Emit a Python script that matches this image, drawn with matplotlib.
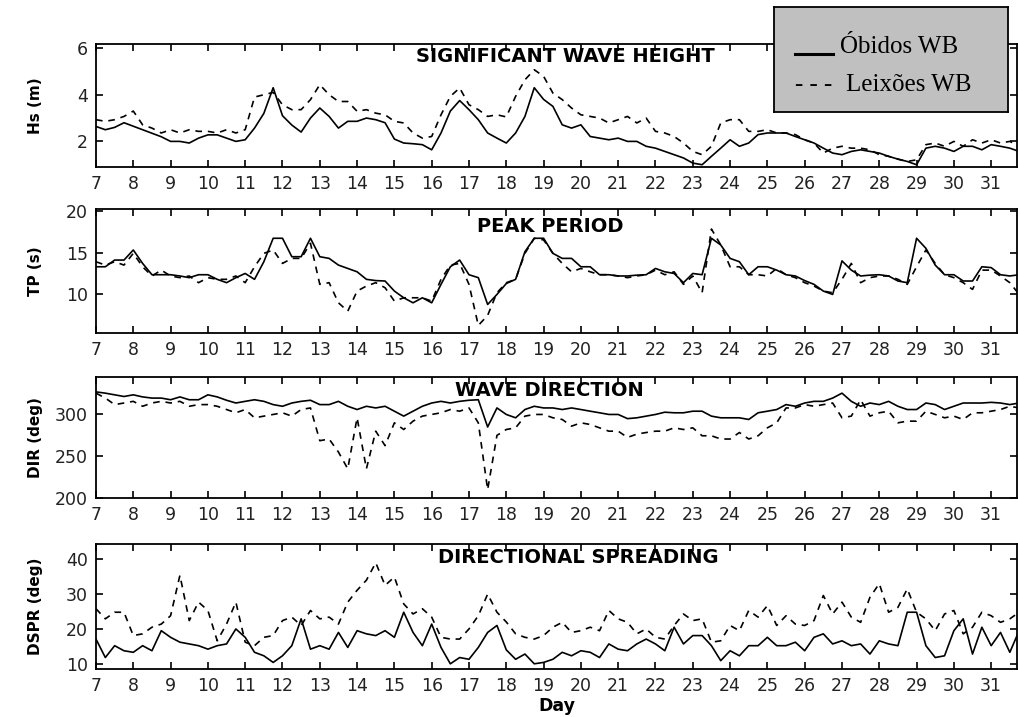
import numpy as np
import matplotlib
matplotlib.use("Agg")
import matplotlib.pyplot as plt
from matplotlib.lines import Line2D
from matplotlib import font_manager

# time axis: 6-hourly samples, day of month
days = np.arange(7, 32, 0.25)

# significant wave height (m)
obidos_hs = [
    2.64, 2.50, 2.60, 2.80,  2.65, 2.50, 2.35, 2.20,  2.00, 2.00, 1.93, 2.14,
    2.28, 2.28, 2.14, 2.00,  2.07, 2.57, 3.20, 4.30,  3.10, 2.70, 2.40, 3.00,
    3.43, 3.07, 2.57, 2.86,  2.86, 3.00, 2.93, 2.80,  2.10, 1.93, 1.90, 1.86,
    1.64, 2.36, 3.30, 3.75,  3.36, 2.93, 2.36, 2.14,  1.93, 2.36, 3.07, 4.30,
    3.80, 3.50, 2.71, 2.57,  2.71, 2.21, 2.14, 2.07,  2.14, 2.00, 2.00, 1.79,
    1.71, 1.57, 1.43, 1.29,  1.07, 1.00, 1.36, 1.71,  2.07, 1.79, 1.93, 2.29,
    2.36, 2.36, 2.36, 2.21,  2.07, 1.93, 1.71, 1.50,  1.43, 1.57, 1.64, 1.57,
    1.50, 1.36, 1.24, 1.14,  1.00, 1.71, 1.79, 1.71,  1.57, 1.79, 1.79, 1.64,
    1.86, 1.79, 1.71, 1.57,
]
leixoes_hs = [
    2.93, 2.86, 2.93, 3.07,  3.30, 2.71, 2.57, 2.36,  2.50, 2.36, 2.50, 2.43,
    2.43, 2.36, 2.50, 2.36,  2.50, 3.90, 4.00, 4.10,  3.57, 3.36, 3.36, 3.79,
    4.43, 4.00, 3.71, 3.71,  3.29, 3.36, 3.21, 3.14,  2.86, 2.79, 2.36, 2.14,
    2.21, 3.14, 3.93, 4.29,  3.57, 3.36, 3.07, 3.14,  3.05, 3.93, 4.64, 5.07,
    4.79, 4.07, 3.79, 3.43,  3.14, 3.07, 3.00, 2.79,  2.93, 3.07, 2.79, 3.00,
    2.43, 2.36, 2.21, 1.93,  1.57, 1.43, 1.79, 2.79,  2.93, 2.93, 2.43, 2.43,
    2.50, 2.36, 2.36, 2.29,  2.07, 1.93, 1.50, 1.71,  1.79, 1.71, 1.71, 1.64,
    1.43, 1.36, 1.24, 1.14,  1.21, 1.86, 1.93, 1.79,  2.00, 1.79, 2.07, 1.93,
    2.07, 1.93, 2.00, 1.79,
]

# peak period (s)
obidos_tp = [
    13.3, 13.3, 14.1, 14.1,  15.3, 13.7, 12.35, 12.35,  12.35, 12.2, 12.0, 12.35,
    12.35, 11.8, 11.4, 12.0,  12.5, 11.8, 13.9, 16.7,  16.7, 14.5, 14.5, 16.7,
    14.5, 14.3, 13.5, 13.1,  12.7, 11.8, 11.65, 11.6,  10.4, 9.6, 9.0, 9.6,
    9.0, 11.2, 13.3, 14.1,  12.35, 12.0, 8.8, 10.0,  11.3, 11.8, 15.1, 16.7,
    16.7, 14.9, 14.3, 14.3,  13.3, 13.3, 12.35, 12.35,  12.2, 12.2, 12.3, 12.35,
    13.1, 12.7, 12.5, 11.4,  12.5, 12.35, 16.7, 15.9,  14.3, 13.9, 12.35, 13.3,
    13.3, 12.9, 12.35, 12.2,  11.65, 11.2, 10.4, 10.0,  14.0, 12.9, 12.2, 12.3,
    12.35, 12.2, 11.6, 11.4,  16.7, 15.5, 13.5, 12.35,  12.35, 11.6, 11.6, 13.3,
    13.2, 12.35, 12.2, 12.35,
]
leixoes_tp = [
    13.9, 13.5, 13.9, 13.5,  14.9, 13.3, 12.2, 12.9,  12.2, 12.0, 12.2, 11.4,
    12.0, 11.8, 11.8, 12.2,  11.4, 13.3, 14.9, 15.3,  13.7, 14.3, 14.3, 16.1,
    11.2, 11.4, 9.0, 8.0,  10.4, 11.0, 11.4, 10.8,  9.2, 9.6, 9.6, 9.6,
    9.2, 11.8, 13.5, 13.7,  11.2, 6.3, 7.5, 10.2,  11.4, 11.8, 14.9, 16.7,
    16.5, 14.9, 13.7, 12.7,  13.1, 12.7, 12.35, 12.35,  12.2, 12.0, 12.2, 12.35,
    12.9, 12.35, 12.7, 11.2,  12.2, 10.2, 17.8, 15.9,  13.3, 13.3, 12.35, 12.35,
    12.2, 13.1, 12.35, 12.0,  11.4, 11.0, 10.4, 10.2,  11.8, 13.7, 11.4, 12.0,
    12.2, 12.2, 11.8, 11.2,  13.3, 15.3, 13.7, 12.35,  12.0, 11.4, 10.6, 12.9,
    12.9, 12.2, 11.4, 10.0,
]

# mean wave direction (deg)
obidos_dir = [
    327, 325.5, 323.5, 321.5,  323.5, 321, 319.6, 319.6,  317.6, 321, 317.6, 317.6,
    323.5, 321, 317, 313.7,  315.7, 317.6, 315.7, 311.8,  309.8, 313.7, 315.7, 317,
    311.8, 311.8, 315.7, 309.8,  305.9, 309.8, 307.8, 309.8,  303.9, 298, 303.9, 309.8,
    313.7, 315.7, 313.7, 315.7,  317, 317.6, 285, 307.8,  300, 296, 305.9, 309.8,
    307.8, 307.8, 305.9, 307.8,  305.9, 303.9, 302, 300,  300, 295, 296, 298,
    300, 302.7, 302, 302,  303.9, 303.9, 298, 296,  296, 296, 294, 302,
    303.9, 305.9, 311.8, 309.8,  313.7, 315.7, 315.7, 319.6,  325.5, 315.7, 309.8, 313.7,
    311.8, 315.7, 309.8, 305.9,  305.9, 313.7, 311.8, 305.9,  309.8, 313.7, 313.7, 313.7,
    314.5, 313.7, 311.8, 313.7,
]
leixoes_dir = [
    325.5, 319.6, 311.8, 313.7,  315.7, 309.8, 313.7, 315.7,  313.7, 315.7, 309.8, 311.8,
    311.8, 309.8, 305.9, 302,  305.9, 296, 298, 300,  302, 298, 305.9, 307.8,
    268.6, 270.6, 255, 235,  296, 235, 280, 262.7,  290, 282, 292, 298,
    300, 302, 305.9, 303.9,  307.8, 290, 210, 275,  282, 284, 298, 300,
    300, 296, 294, 286,  290, 288, 284, 280,  280, 272.5, 276.5, 278.4,
    280, 280, 284, 282,  284, 274.5, 274.5, 270.6,  270.6, 278.4, 270.6, 274.5,
    284, 290, 307.8, 307.8,  311.8, 309.8, 311.8, 313.7,  296, 298, 317.6, 298,
    302, 303.9, 290, 292,  292, 303.9, 300, 296,  298, 294, 302, 302,
    303.9, 305.9, 309.8, 307.8,
]

# directional spreading (deg)
obidos_dspr = [
    17.1, 11.8, 15.2, 13.75,  13.3, 15.2, 13.75, 19.5,  17.6, 16.2, 15.7, 15.2,
    14.2, 15.2, 15.7, 20.0,  17.6, 13.3, 12.3, 10.4,  12.3, 15.2, 22.9, 14.2,
    15.2, 14.2, 19.0, 14.7,  19.5, 18.6, 18.1, 19.5,  17.6, 24.8, 19.0, 15.2,
    21.4, 14.7, 10.0, 11.8,  11.3, 14.7, 19.0, 21.0,  14.0, 11.3, 12.8, 10.0,
    10.4, 11.3, 13.3, 12.3,  13.75, 13.3, 11.8, 15.7,  14.2, 13.75, 15.7, 17.1,
    15.7, 13.75, 20.5, 15.7,  18.1, 18.1, 15.2, 10.9,  13.75, 12.3, 15.2, 15.2,
    17.6, 15.2, 15.2, 16.2,  13.75, 17.6, 18.6, 15.7,  16.6, 15.2, 15.7, 12.8,
    16.6, 15.7, 15.2, 24.8,  24.8, 15.2, 11.8, 12.3,  19.5, 22.9, 12.8, 20.5,
    15.2, 19.0, 13.3, 19.5,
]
leixoes_dspr = [
    25.8, 22.9, 24.8, 24.8,  18.1, 18.6, 20.5, 21.4,  23.8, 35.4, 22.4, 27.7,
    25.3, 16.6, 21.4, 27.7,  16.2, 15.2, 17.6, 18.1,  22.4, 23.4, 21.0, 25.3,
    22.9, 23.4, 21.4, 27.7,  31.1, 34.0, 39.0, 32.5,  34.9, 27.2, 24.3, 25.8,
    23.4, 17.6, 17.1, 17.1,  20.0, 23.8, 30.0, 24.8,  22.0, 18.6, 17.6, 17.1,
    18.1, 20.5, 21.9, 19.0,  19.5, 20.5, 19.5, 25.3,  22.9, 21.9, 18.6, 20.0,
    17.6, 17.1, 21.0, 24.3,  22.4, 22.9, 16.2, 16.6,  21.0, 19.5, 25.3, 23.4,
    26.7, 21.0, 23.8, 21.4,  21.0, 22.4, 29.6, 24.3,  27.7, 23.4, 21.9, 29.1,
    33.0, 24.8, 26.2, 31.5,  24.8, 22.9, 19.5, 24.3,  25.3, 18.6, 20.5, 24.8,
    23.8, 21.9, 22.9, 24.8,
]

day_ticks = list(range(7, 32))

panels = [
    dict(obs=obidos_hs, lei=leixoes_hs, ylabel="Hs (m)", title="SIGNIFICANT WAVE HEIGHT",
         ylim=(0.9, 6.17), yticks=[2, 4, 6], rect=[0.0943, 0.767, 0.905, 0.1715], tx=0.51, ty=0.90),
    dict(obs=obidos_tp, lei=leixoes_tp, ylabel="TP (s)", title="PEAK PERIOD",
         ylim=(5.4, 20.2), yticks=[10, 15, 20], rect=[0.0943, 0.5356, 0.905, 0.173], tx=0.493, ty=0.86),
    dict(obs=obidos_dir, lei=leixoes_dir, ylabel="DIR (deg)", title="WAVE DIRECTION",
         ylim=(200, 345), yticks=[200, 250, 300], rect=[0.0943, 0.3054, 0.905, 0.169], tx=0.492, ty=0.885),
    dict(obs=obidos_dspr, lei=leixoes_dspr, ylabel="DSPR (deg)", title="DIRECTIONAL SPREADING",
         ylim=(8.5, 44.3), yticks=[10, 20, 30, 40], rect=[0.0943, 0.0669, 0.905, 0.174], tx=0.524, ty=0.89),
]

# narrow face for the axis labels if the system has one
installed = {f.name for f in font_manager.fontManager.ttflist}
if "Liberation Sans Narrow" in installed:
    label_font = dict(family="Liberation Sans Narrow", fontsize=13.5)
else:
    label_font = dict(family="DejaVu Sans", fontsize=11)

fig = plt.figure(figsize=(10.18, 7.17), dpi=100)

for p in panels:
    ax = fig.add_axes(p["rect"])
    ax.plot(days, p["obs"], color="black", lw=1.2, ls="-")
    ax.plot(days, p["lei"], color="black", lw=1.2, ls=(0, (4, 3.5)))
    ax.set_xlim(7, 31.7)
    ax.set_ylim(*p["ylim"])
    ax.set_xticks(day_ticks)
    ax.set_yticks(p["yticks"])
    ax.tick_params(direction="in", top=True, right=True, length=5, width=1.2,
                   labelsize=12.5, pad=6, labelcolor="#222222")
    for s in ax.spines.values():
        s.set_linewidth(1.3)
    ax.set_ylabel(p["ylabel"], fontweight="bold", **label_font)
    ax.yaxis.set_label_coords(-0.058, 0.5)
    ax.text(p["tx"], p["ty"], p["title"], transform=ax.transAxes, ha="center", va="center",
            fontsize=14, fontweight="bold")

ax.set_xlabel("Day", fontsize=12.5, fontweight="bold", labelpad=1)

# legend box drawn over the top panel
lg = fig.add_axes([0.7603, 0.8438, 0.2299, 0.1464])
lg.set_facecolor("#c0c0c0")
lg.set_xlim(0, 1)
lg.set_ylim(0, 1)
lg.set_xticks([])
lg.set_yticks([])
for s in lg.spines.values():
    s.set_linewidth(1.3)
lg.add_line(Line2D([0.09, 0.252], [0.55, 0.55], color="black", lw=2.2))
lg.text(0.282, 0.56, "Óbidos WB", family="Liberation Serif", fontsize=18, va="baseline")
lg.text(0.09, 0.2, "- - -", family="Liberation Serif", fontsize=18, va="baseline")
lg.text(0.308, 0.2, "Leixões WB", family="Liberation Serif", fontsize=18, va="baseline")

fig.savefig("out.png", dpi=100)
